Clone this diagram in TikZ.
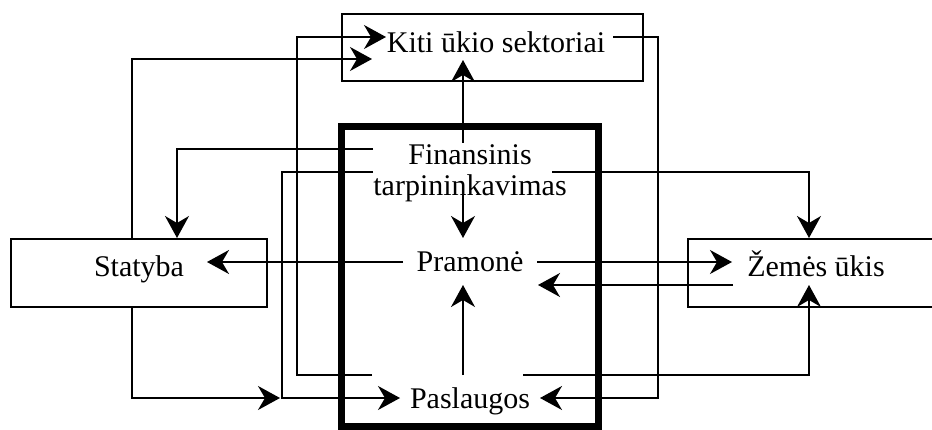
\documentclass[tikz,border=0pt]{standalone}
\usepackage{fontspec}
\setmainfont{Liberation Serif}
\usetikzlibrary{arrows.meta}
\begin{document}
\begin{tikzpicture}[x=1pt,y=-1pt,
  conn/.style={line width=1.6pt,-{Stealth[length=22pt,width=24pt,inset=7pt]}},
  box/.style={draw,line width=1.6pt,inner sep=0pt},
  corebox/.style={draw,line width=7pt,inner sep=0pt},
  lbl/.style={font=\fontsize{30}{31}\selectfont,inner sep=0pt,anchor=base}]
\useasboundingbox (0,0) rectangle (932,430);
% boxes
\node[box,minimum width=301pt,minimum height=67pt] (kitibox) at (492.5,47.5) {};
\node[box,minimum width=256pt,minimum height=68pt] (statbox) at (139,273) {};
\node[box,minimum width=262pt,minimum height=68pt] (zembox) at (819,273) {};
% labels
\node[lbl] (kiti) at (496,53) {Kiti ūkio sektoriai};
\node[lbl] (fin1) at (470,165) {Finansinis};
\node[lbl] (fin2) at (470,196) {tarpininkavimas};
\node[lbl] (pram) at (470,272) {Pramonė};
\node[lbl] (pasl) at (470,408) {Paslaugos};
\node[lbl] (stat) at (139,277) {Statyba};
\node[lbl] (zem) at (816,277) {Žemės ūkis};
% connector end points
\coordinate (a1) at (132,239);   \coordinate (a2) at (372,59);
\coordinate (b1) at (372,375);   \coordinate (b2) at (297,375);  \coordinate (b3) at (386,37);
\coordinate (c1) at (613,37);    \coordinate (c2) at (658,398);  \coordinate (c3) at (540,398);
\coordinate (d1) at (463,143);   \coordinate (d2) at (463,60);
\coordinate (e1) at (373,149);   \coordinate (e2) at (177,238);
\coordinate (f1) at (373,172);   \coordinate (f2) at (282,398);  \coordinate (f3) at (400,398);
\coordinate (g1) at (132,307);   \coordinate (g2) at (280,398);
\coordinate (h1) at (552,172);   \coordinate (h2) at (809,238);
\coordinate (i1) at (463,185);   \coordinate (i2) at (463,238);
\coordinate (j1) at (403,262);   \coordinate (j2) at (207,262);
\coordinate (k1) at (537,262);   \coordinate (k2) at (732,262);
\coordinate (l1) at (733,285);   \coordinate (l2) at (538,285);
\coordinate (m1) at (463,375);   \coordinate (m2) at (463,285);
\coordinate (n1) at (523,375);   \coordinate (n2) at (809,285);
% connectors
\draw[conn] (a1) |- (a2);
\draw[conn] (b1) -- (b2) |- (b3);
\draw[conn] (c1) -| (c2) -- (c3);
\draw[conn] (d1) -- (d2);
\draw[conn] (e1) -| (e2);
\draw[conn] (f1) -| (f2) -- (f3);
\draw[conn] (g1) |- (g2);
\draw[conn] (h1) -| (h2);
\draw[conn] (i1) -- (i2);
\draw[conn] (j1) -- (j2);
\draw[conn] (k1) -- (k2);
\draw[conn] (l1) -- (l2);
\draw[conn] (m1) -- (m2);
\draw[conn] (n1) -| (n2);
% thick frame
\node[corebox,minimum width=257pt,minimum height=299pt] (core) at (469.5,276.5) {};
\end{tikzpicture}
\end{document}
